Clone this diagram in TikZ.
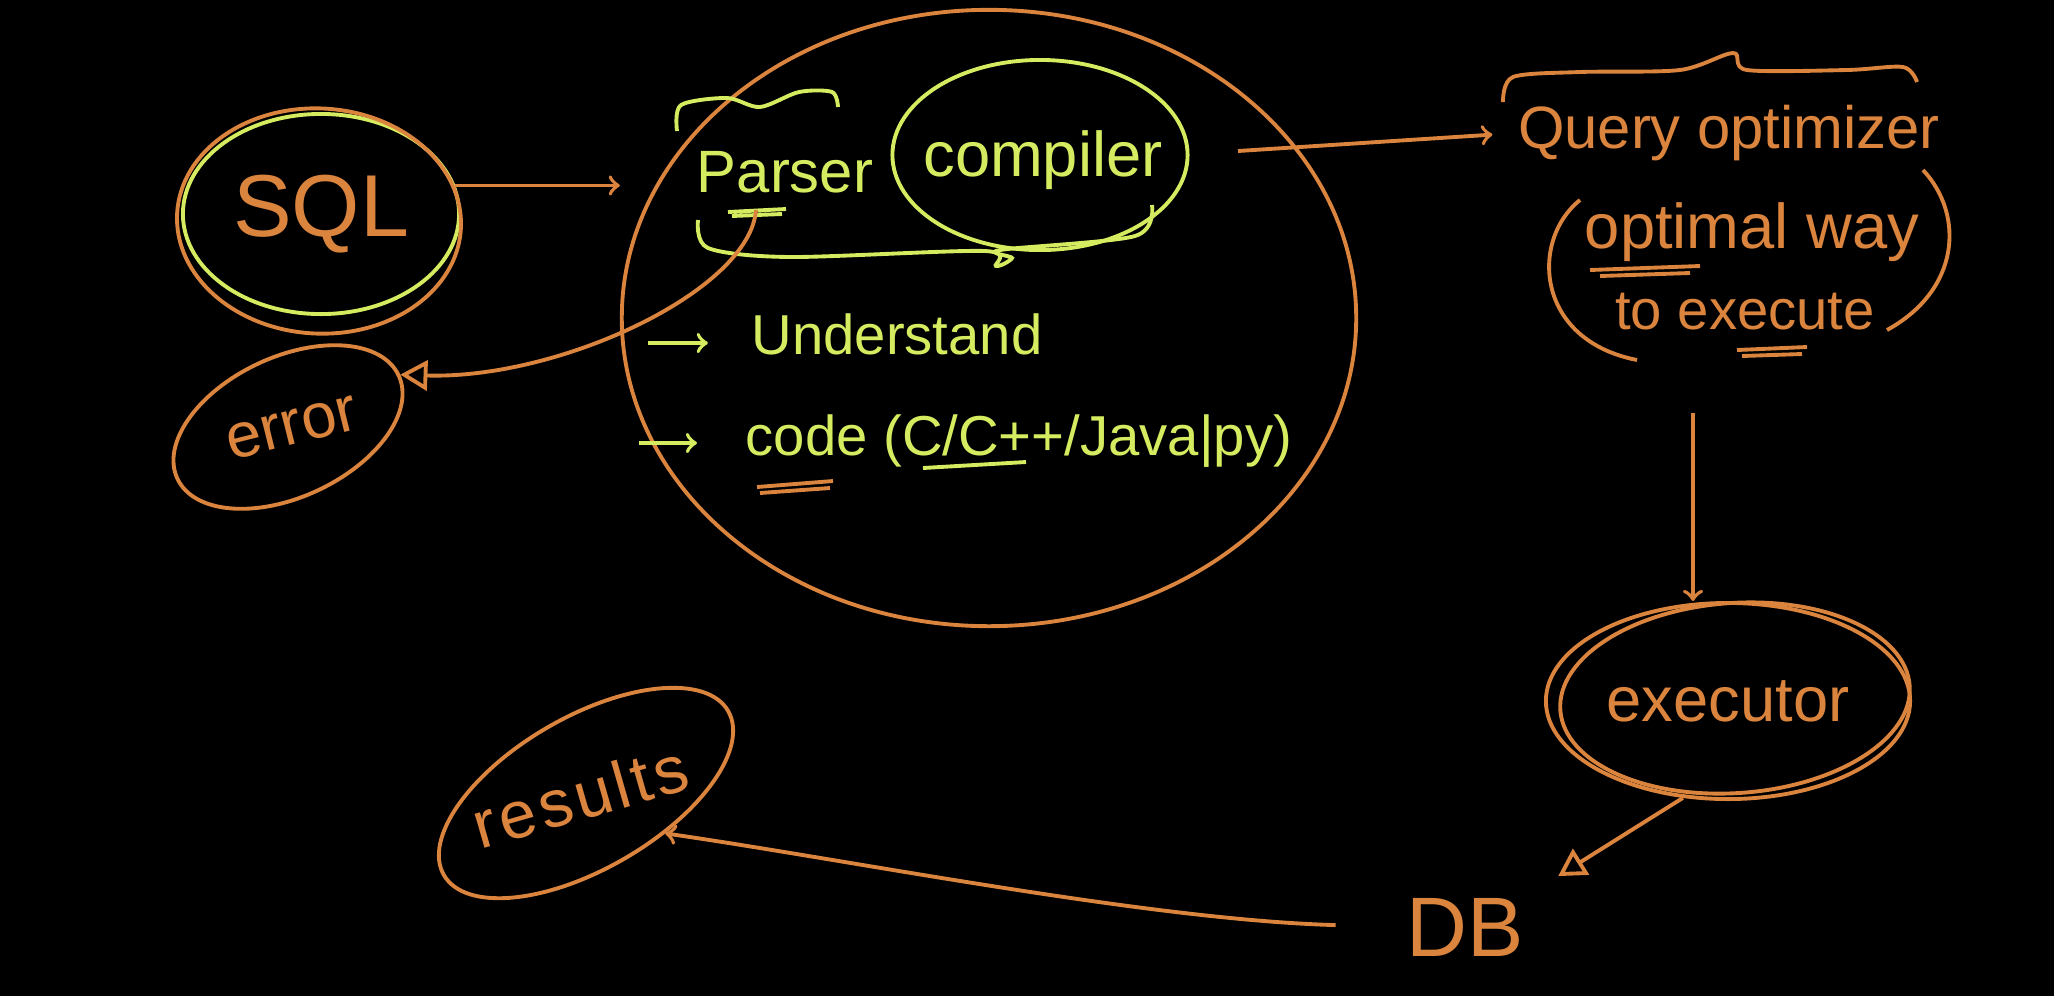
\documentclass[tikz,border=0pt]{standalone}
\usepackage{fontspec}
\setmainfont{Liberation Sans}
\usepackage{tikz}
\usetikzlibrary{arrows,calc,shapes.geometric}

\definecolor{chalk}{RGB}{218,132,62}
\definecolor{chalkgreen}{RGB}{214,236,96}

\tikzset{
	hand/.style={font=\fontsize{#1}{#1}\selectfont, inner sep=0pt},
	orangeink/.style={color=chalk, line width=1.1pt},
	greenink/.style={color=chalkgreen, line width=1.1pt},
	bubble/.style={ellipse, draw, orangeink},
	greenbubble/.style={ellipse, draw, greenink},
	flow/.style={orangeink, ->, >=to},
	greenflow/.style={greenink, ->, >=to},
	backflow/.style={orangeink, -open triangle 60}
}

\begin{document}
\begin{tikzpicture}[x=0.01cm, y=-0.01cm]
	\fill[black] (0,0) rectangle (2054,996);

	\node[greenbubble, text=chalk, hand=25, minimum width=2.76cm, minimum height=2cm] (sql) at (321,214) {SQL};
	\node[bubble, minimum width=2.84cm, minimum height=2.25cm, rotate=-3] (sqlrim) at (319,221) {};
	\node[bubble, minimum width=2.44cm, minimum height=1.4cm, rotate=25] (error) at (288,427) {};
	\node[hand=18, text=chalk, rotate=14] (errortext) at (292,428) {error};

	\node[bubble, minimum width=7.34cm, minimum height=6.16cm] (engine) at (989,318) {};
	\node[hand=17, text=chalkgreen] (parser) at (785,172) {Parser};
	\node[greenbubble, minimum width=2.95cm, minimum height=1.9cm] (compilerring) at (1040,155) {};
	\node[hand=18, text=chalkgreen] (compiler) at (1043,160) {compiler};
	\draw[greenink] plot[smooth] coordinates {(677,131) (681,105) (727,98) (760,107) (799,92) (832,92) (838,107)};
	\draw[greenink] plot[smooth] coordinates {(698,220) (708,248) (790,257) (985,251) (996,266) (1012,258) (1000,250) (1135,236) (1152,205)};
	\draw[greenink] (728,212) -- (786,209) (732,216) -- (782,214);

	\node[hand=16, text=chalkgreen] (understand) at (897,334) {Understand};
	\node[hand=16, text=chalkgreen, anchor=west] (code) at (745,441) {code (C/C++/Java|py)};
	\coordinate (understandtail) at (648,343);
	\coordinate (codetail) at (639,443);
	\path[greenflow] (understandtail) edge[shorten >=0.43cm] (understandtail -| understand.west)
		(codetail) edge[shorten >=0.48cm] (codetail -| code.west);
	\draw[orangeink] (757,487) -- (833,481) (760,493) -- (830,488);
	\draw[greenink] (923,468) -- (1026,462);

	\coordinate (parsertail) at (756,210);
	\draw[backflow] (parsertail) .. controls (750,290) and (560,380) .. (error.east);
	\path[flow] (sql.12) edge (sql.12 -| engine.west);

	\node[hand=17, text=chalk] (query) at (1729,133) {Query optimizer};
	\node[hand=18, text=chalk] (optway) at (1752,232) {optimal way};
	\node[hand=16, text=chalk] (toexec) at (1745,312) {to execute};
	\coordinate (querytail) at (1238,151);
	\path[flow] (querytail) edge[shorten >=0.25cm] (query.west);
	\draw[orangeink] plot[smooth] coordinates {(1503,102) (1513,77) (1580,72) (1680,70) (1733,53) (1747,70) (1847,70) (1903,67) (1917,82)};
	\draw[orangeink] (1580,200) .. controls (1530,240) and (1535,340) .. (1637,360);
	\draw[orangeink] (1923,170) .. controls (1965,215) and (1960,290) .. (1887,330);
	\draw[orangeink] (1590,270) -- (1700,266) (1600,276) -- (1690,273);
	\draw[orangeink] (1737,350) -- (1807,347) (1742,356) -- (1802,354);

	\node[bubble, hand=18, minimum width=3.64cm, minimum height=1.96cm] (executor) at (1728,701) {executor};
	\node[bubble, minimum width=3.5cm, minimum height=1.9cm, rotate=4] (executorrim) at (1735,698) {};
	\coordinate (optimizertail) at (1693,413);
	\path[flow] (optimizertail) edge (optimizertail |- executor.north);

	\node[hand=24, text=chalk] (db) at (1465,927) {DB};
	\path[backflow] (executor.-115) edge[shorten >=0.4cm] (db.north east);

	\node[bubble, minimum width=3.28cm, minimum height=1.52cm, rotate=30] (results) at (586,793) {};
	\node[hand=19, text=chalk, rotate=16] (resultstext) at (580,796) {\addfontfeatures{LetterSpace=6}results};
	\draw[flow, shorten <=0.7cm] (db.west) .. controls (1150,920) and (850,860) .. (results.-57);
\end{tikzpicture}
\end{document}
